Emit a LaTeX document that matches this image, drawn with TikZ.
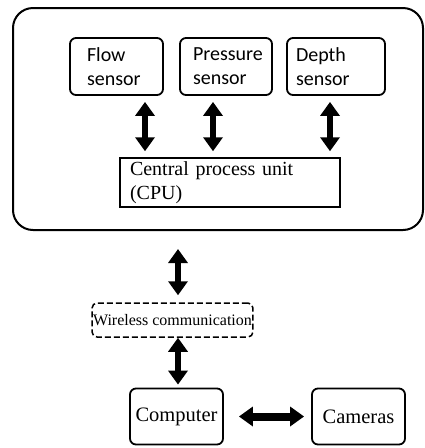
\documentclass[tikz,border=0pt]{standalone}
\usepackage{fontspec}
\setmainfont{Liberation Serif}
\newfontfamily\sensorfont{Carlito}
\usetikzlibrary{shapes,arrows.meta,positioning}

\begin{document}
\begin{tikzpicture}[x=1pt, y=-1pt, node distance=110pt,
    sensorbox/.style={rectangle, draw, rounded corners=6pt, line width=1.8pt, minimum width=93pt, minimum height=57pt, inner xsep=0pt, align=left, font=\sensorfont\fontsize{20}{24}\selectfont},
    pcbox/.style={rectangle, draw, rounded corners=6pt, line width=1.8pt, minimum width=93pt, minimum height=56pt, font=\fontsize{20.5}{24}\selectfont},
    bigarrow/.style={{Triangle[width=19pt,length=14pt]}-{Triangle[width=19pt,length=14pt]}, line width=6pt, shorten <=6pt, shorten >=6pt}]
    \useasboundingbox (0,0) rectangle (425,448);

    % sensor board
    \node (board) [rectangle, draw, rounded corners=20pt, line width=2pt, minimum width=410pt, minimum height=222pt] at (218,119) {};
    \node (flow) [sensorbox, text width=59pt] at (116.5,66.5) {Flow\\sensor};
    \node (pressure) [sensorbox, minimum width=92pt, text width=66pt, right of=flow, node distance=109.5pt] {Pressure\\sensor};
    \node (depth) [sensorbox, minimum width=98pt, text width=80pt, right of=pressure] {Depth\\sensor};
    \node (cpu) [rectangle, draw, line width=1.5pt, minimum width=220pt, minimum height=49pt, text width=200pt, align=left, font=\fontsize{20}{24}\selectfont] at (230,182.5) {Central process unit\\(CPU)};

    % link and ground station
    \node (wireless) [rectangle, draw, dash pattern=on 6pt off 3pt, rounded corners=5pt, line width=1.5pt, inner xsep=1pt, minimum height=34pt, font=\fontsize{16}{19}\selectfont] at (172.5,320) {Wireless communication};
    \node (computer) [pcbox] at (176.5,416.5) {Computer};
    \node (cameras) [pcbox, right of=computer, node distance=182pt] {Cameras};

    \draw[bigarrow] ([xshift=28.5pt]flow.south) -- ([xshift=28.5pt]flow.south |- cpu.north);
    \draw[bigarrow] ([xshift=-13pt]pressure.south) -- ([xshift=-13pt]pressure.south |- cpu.north);
    \draw[bigarrow] ([xshift=-6pt]depth.south) -- ([xshift=-6pt]depth.south |- cpu.north);
    \draw[bigarrow, shorten <=7pt, shorten >=18pt] ([xshift=5.5pt]wireless.north) -- ([xshift=5.5pt]wireless.north |- board.south);
    \draw[bigarrow, shorten <=0pt, shorten >=3pt] ([xshift=5.5pt]wireless.south) -- ([xshift=5.5pt]wireless.south |- computer.north);
    \draw[bigarrow, line width=8pt, shorten <=15pt, shorten >=7pt] (computer) -- (cameras);
\end{tikzpicture}
\end{document}
